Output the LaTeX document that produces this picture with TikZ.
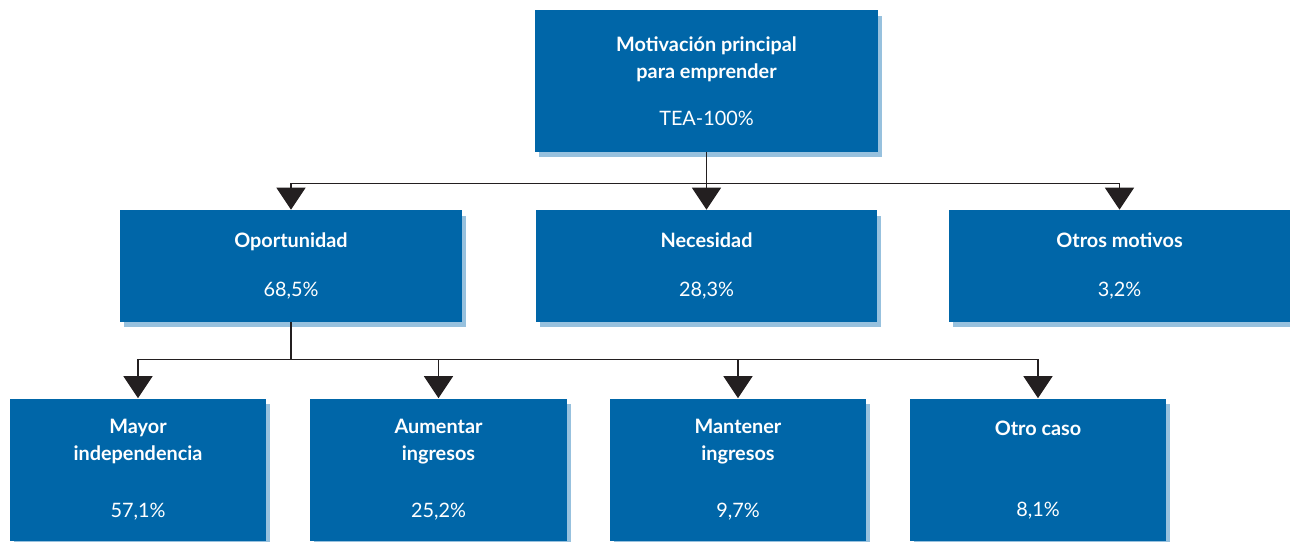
\documentclass[tikz,border=0pt]{standalone}
\usepackage{fontspec}
\setmainfont{Lato}
\usetikzlibrary{arrows.meta,shadows}
\definecolor{cajaazul}{HTML}{0066A8}
\definecolor{sombra}{HTML}{97C1DE}
\definecolor{linea}{HTML}{231F20}
\tikzset{
	caja/.style={fill=cajaazul,text=white,align=center,inner sep=0pt,font=\fontsize{11.3}{15.4}\selectfont,drop shadow={fill=sombra,opacity=1,shadow xshift=0.08cm,shadow yshift=-0.11cm}},%
	cajagrande/.style={caja,minimum width=6.86cm,minimum height=2.84cm},%
	cajamedia/.style={caja,minimum width=6.84cm,minimum height=2.24cm},%
	cajachica/.style={caja,minimum width=5.14cm,minimum height=2.86cm},%
	flecha/.style={draw=linea,line width=0.03cm,-{Triangle[width=0.58cm,length=0.44cm,fill=linea]}},%
}
\def\bajadauno{31}
\def\bajadados{37}

\begin{document}
\begin{tikzpicture}[%
		x=0.02cm,y=-0.02cm,%
		]
		\useasboundingbox (0,0) rectangle (1290,541);
		% nivel 1
		\node[cajagrande] (motiv) at (706.5,81) {\textbf{Motivación principal}\\\textbf{para emprender}\\[11pt]TEA-100\%};
		% nivel 2
		\node[cajamedia] (oport) at (291,266) {\textbf{Oportunidad}\\[13pt]68,5\%};
		\node[cajamedia] (neces) at (706.5,266) {\textbf{Necesidad}\\[13pt]28,3\%};
		\node[cajamedia] (otros) at (1119.5,266) {\textbf{Otros motivos}\\[13pt]3,2\%};
		% nivel 3
		\node[cajachica] (mayor) at (138,470) {\textbf{Mayor}\\\textbf{independencia}\\[17pt]57,1\%};
		\node[cajachica] (aumen) at (438.5,470) {\textbf{Aumentar}\\\textbf{ingresos}\\[17pt]25,2\%};
		\node[cajachica] (mante) at (738,470) {\textbf{Mantener}\\\textbf{ingresos}\\[17pt]9,7\%};
		\node[cajachica] (otroc) at (1038,470) {\textbf{Otro caso}\\[31pt]8,1\%};
		% conectores
		\foreach \n in {oport,neces,otros}
			\draw[flecha] (motiv.south) -- ++(0,\bajadauno) -| (\n.north);
		\foreach \n in {mayor,aumen,mante,otroc}
			\draw[flecha] (oport.south) -- ++(0,\bajadados) -| (\n.north);
	\end{tikzpicture}
\end{document}
